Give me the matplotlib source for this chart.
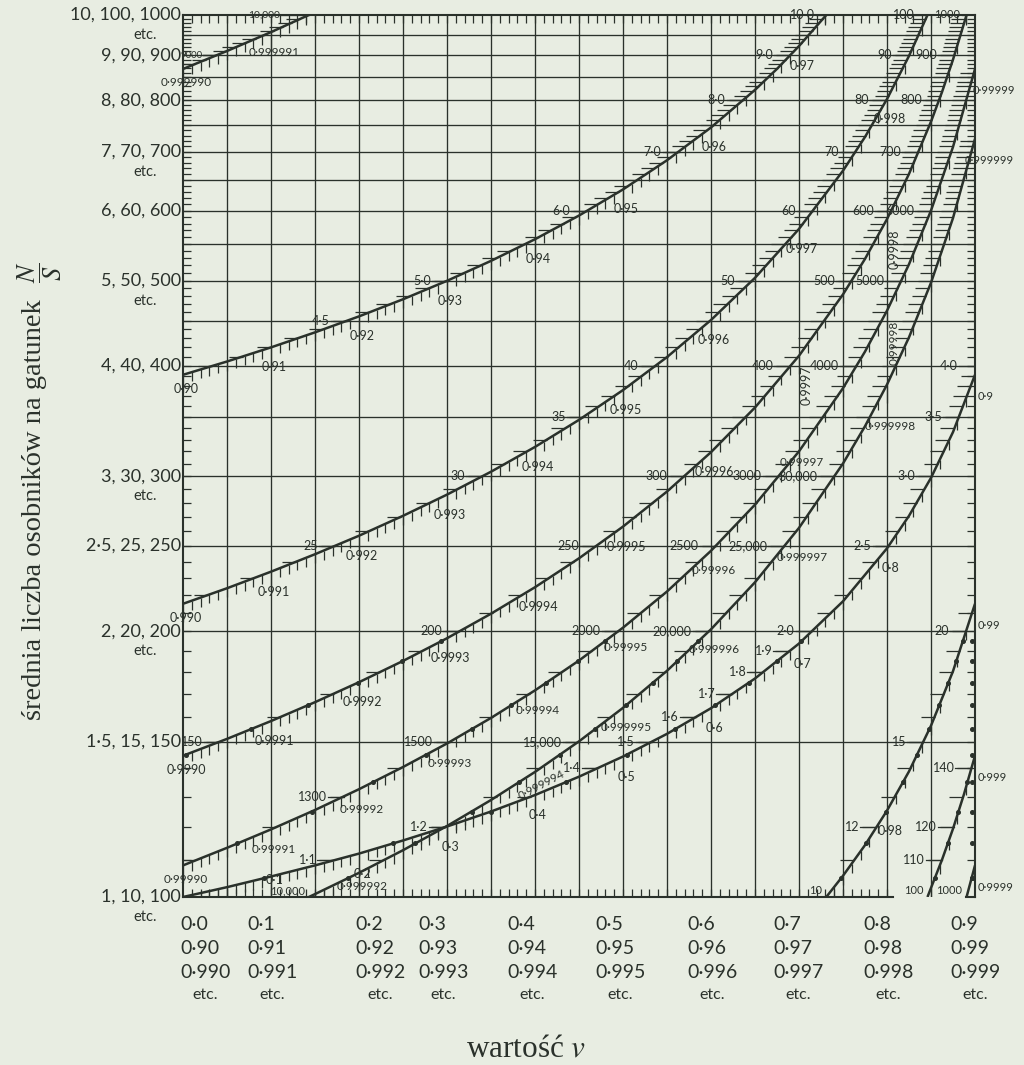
import numpy as np
import matplotlib.pyplot as plt
from matplotlib.collections import LineCollection
from matplotlib.ticker import NullLocator

plt.rcParams["font.family"] = ["Lato", "DejaVu Sans"]
plt.rcParams["mathtext.fontset"] = "stix"

INK = "#2a312b"
PAPER = "#e8ede2"

# N/S along each v scale; u is the position on the common v axis (0.0 .. 0.9)
ROW1_U = [0.00, 0.05, 0.10, 0.15, 0.20, 0.25, 0.30, 0.35, 0.40, 0.45, 0.50, 0.55, 0.60, 0.65,
          0.70, 0.75, 0.80, 0.825, 0.85, 0.875, 0.90]
ROW1_NS = [1.000, 1.026, 1.055, 1.086, 1.120, 1.159, 1.202, 1.250, 1.305, 1.369, 1.443, 1.531,
           1.637, 1.769, 1.938, 2.164, 2.485, 2.705, 2.987, 3.366, 3.909]

ROW2_U = [0.00, 0.05, 0.10, 0.15, 0.20, 0.25, 0.30, 0.35, 0.40, 0.45, 0.50, 0.55, 0.60, 0.65,
          0.675, 0.70, 0.731, 0.75, 0.775, 0.80, 0.825, 0.85, 0.875, 0.90]
ROW2_NS = [3.909, 4.047, 4.199, 4.367, 4.553, 4.761, 4.996, 5.263, 5.569, 5.924, 6.342, 6.844,
           7.456, 8.224, 8.688, 9.221, 10.0, 10.57, 11.45, 12.53, 13.88, 15.64, 18.03, 21.50]

ROW3_U = [0.00, 0.05, 0.10, 0.15, 0.20, 0.25, 0.30, 0.35, 0.40, 0.45, 0.50, 0.55, 0.60, 0.65,
          0.70, 0.75, 0.775, 0.80, 0.825, 0.846, 0.85, 0.8625, 0.875, 0.8875, 0.90]
ROW3_NS = [21.50, 22.39, 23.38, 24.47, 25.68, 27.05, 28.59, 30.35, 32.38, 34.75, 37.56, 40.94,
           45.10, 50.35, 57.21, 66.60, 72.73, 80.30, 89.86, 100.0, 102.4, 110.2, 119.5, 130.8,
           144.6]

ROW4_U = [0.00, 0.05, 0.10, 0.15, 0.20, 0.25, 0.30, 0.35, 0.40, 0.45, 0.50, 0.55, 0.60, 0.65,
          0.70, 0.75, 0.775, 0.80, 0.825, 0.85, 0.8625, 0.875, 0.8904, 0.90]
ROW4_NS = [144.6, 151.1, 158.3, 166.3, 175.2, 185.2, 196.5, 209.5, 224.5, 242.1, 263.0, 288.2,
           319.4, 358.9, 410.8, 482.2, 529.0, 586.9, 660.4, 757.0, 817.8, 890.1, 1000.0, 1086.0]

ROW5_U = [0.00, 0.05, 0.10, 0.15, 0.20, 0.25, 0.30, 0.35, 0.40, 0.45, 0.50, 0.55, 0.60, 0.65,
          0.70, 0.75, 0.775, 0.80, 0.825, 0.85, 0.875, 0.90]
ROW5_NS = [1086, 1137, 1193, 1255, 1325, 1404, 1493, 1596, 1715, 1854, 2020, 2220, 2469, 2785,
           3201, 3775, 4153, 4621, 5217, 6002, 7086, 8686]

ROW6_U = [0.00, 0.05, 0.10, 0.143, 0.15, 0.20, 0.25, 0.30, 0.35, 0.40, 0.45, 0.50, 0.55, 0.60,
          0.65, 0.70, 0.75, 0.775, 0.80, 0.825, 0.85, 0.875, 0.90]
ROW6_NS = [8686, 9103, 9563, 10000, 10076, 10651, 11299, 12036, 12881, 13861, 15013, 16385,
           18050, 20114, 22743, 26212, 31010, 34176, 38103, 43108, 49714, 58857, 72382]

# marked N/S values on each scale
ROW1_NS_LABELS = ["1·1", "1·2", "1·4", "1·5", "1·6", "1·7", "1·8", "1·9", "2·0", "2·5", "3·0",
                  "3·5", "4·0"]
ROW2_NS_LABELS = ["4·5", "5·0", "6·0", "7·0", "8·0", "9·0", "10·0", "12", "15", "20"]
ROW3_NS_LABELS = ["25", "30", "35", "40", "50", "60", "70", "80", "90", "100", "110", "120", "140"]
ROW4_NS_LABELS = ["150", "200", "250", "300", "400", "500", "600", "700", "800", "900", "1000"]
ROW5_NS_LABELS = ["1300", "1500", "2000", "2500", "3000", "4000", "5000", "6000"]
ROW6_NS_LABELS = ["9000", "10,000", "15,000", "20,000", "25,000", "30,000"]
WRAP_LABELS = ["10", "100", "1000", "10,000"]

# marked v values on each scale
ROW1_V_LABELS = ["0·1", "0·2", "0·3", "0·4", "0·5", "0·6", "0·7", "0·8", "0·9"]
ROW2_V_LABELS = ["0·90", "0·91", "0·92", "0·93", "0·94", "0·95", "0·96", "0·97", "0·98", "0·99"]
ROW3_V_LABELS = ["0·990", "0·991", "0·992", "0·993", "0·994", "0·995", "0·996", "0·997",
                 "0·998", "0·999"]
ROW4_V_LABELS = ["0·9990", "0·9991", "0·9992", "0·9993", "0·9994", "0·9995", "0·9996", "0·9997",
                 "0·9998", "0·9999"]
ROW5_V_LABELS = ["0·99990", "0·99991", "0·99992", "0·99993", "0·99994", "0·99995", "0·99996",
                 "0·99997", "0·99998", "0·99999"]
ROW6_V_LABELS = ["0·999990", "0·999991", "0·999992", "0·999994", "0·999995", "0·999996",
                 "0·999997", "0·999998", "0·999999"]

Y_TICK_VALUES = [1, 1.5, 2, 2.5, 3, 4, 5, 6, 7, 8, 9, 10]
Y_TICK_LABELS = ["1, 10, 100", "1·5, 15, 150", "2, 20, 200", "2·5, 25, 250", "3, 30, 300",
                 "4, 40, 400", "5, 50, 500", "6, 60, 600", "7, 70, 700", "8, 80, 800",
                 "9, 90, 900", "10, 100, 1000"]
Y_ETC_VALUES = [1, 2, 3, 5, 7, 10]

X_TICK_U = [0.0, 0.1, 0.2, 0.3, 0.4, 0.5, 0.6, 0.7, 0.8, 0.9]
X_ROW1 = ["0·0", "0·1", "0·2", "0·3", "0·4", "0·5", "0·6", "0·7", "0·8", "0·9"]
X_ROW2 = ["0·90", "0·91", "0·92", "0·93", "0·94", "0·95", "0·96", "0·97", "0·98", "0·99"]
X_ROW3 = ["0·990", "0·991", "0·992", "0·993", "0·994", "0·995", "0·996", "0·997", "0·998",
          "0·999"]

ROWS = [
    (ROW1_U, ROW1_NS, ROW1_NS_LABELS, ROW1_V_LABELS),
    (ROW2_U, ROW2_NS, ROW2_NS_LABELS, ROW2_V_LABELS),
    (ROW3_U, ROW3_NS, ROW3_NS_LABELS, ROW3_V_LABELS),
    (ROW4_U, ROW4_NS, ROW4_NS_LABELS, ROW4_V_LABELS),
    (ROW5_U, ROW5_NS, ROW5_NS_LABELS, ROW5_V_LABELS),
    (ROW6_U, ROW6_NS, ROW6_NS_LABELS, ROW6_V_LABELS),
]

# layout (pixels)
W, H = 1024, 1065
X0, X1, Y_TOP, Y_BOT = 183, 975, 15, 897
U_PX = 0.9 / (X1 - X0)
D_PX = 1.0 / (Y_BOT - Y_TOP)
PT = 0.72
X_LABEL_SHIFT = [-3, -24, -4, -29, -28, -28, -24, -26, -24, -25]
V_LABEL_DY = {"0·999997": 30, "0·999998": 42, "0·99997": 11, "0·1": 4}
END_LABEL_DX = {"0·999999": -10, "0·99999": -2}
NS_LABEL_GAP = {"9000": 13, "10,000": 28, "10·0": 10, "100": 12, "1000": 5}
NS_LABEL_SIZE = {"9000": 7, "10,000": 7.5, "1000": 8}
ROTATED = {"0·9997", "0·9998", "0·99998"}
SLANTED = {"0·999994"}


def parse(txt):
    return float(txt.replace("·", ".").replace(",", ""))


def split_decades(us, ns):
    """Cut one scale into pieces lying inside a single decade of N/S."""
    us = np.asarray(us, float)
    ns = np.asarray(ns, float)
    dec = np.floor(np.log10(ns) + 1e-9).astype(int)
    out = []
    for d in np.unique(dec):
        idx = np.flatnonzero(dec == d)
        su = list(us[idx])
        sm = list(ns[idx] / 10.0 ** d)
        nxt = idx[-1] + 1
        if nxt < len(ns) and np.isclose(ns[nxt], 10.0 ** (d + 1)):
            su.append(us[nxt])
            sm.append(10.0)
        out.append((d, np.array(su), np.array(sm)))
    return out


fig = plt.figure(figsize=(W / 100, H / 100), dpi=100, facecolor=PAPER)
ax = fig.add_axes([X0 / W, 1 - Y_BOT / H, (X1 - X0) / W, (Y_BOT - Y_TOP) / H])
ax.set_facecolor(PAPER)
ax.set_yscale("log")
ax.set_xlim(0, 0.9)
ax.set_ylim(1, 10)
ax.set_xticks([])
ax.set_yticks([])
ax.yaxis.set_minor_locator(NullLocator())
for s in ax.spines.values():
    s.set_visible(False)

# grid
for u in np.arange(1, 18) * 0.05:
    ax.plot([u, u], [1, 10], color=INK, lw=0.95, zorder=1)
for m in np.arange(1.5, 10, 0.5):
    ax.plot([0, 0.9], [m, m], color=INK, lw=0.95, zorder=1)

# frame
frame_kw = dict(color=INK, lw=1.5, clip_on=False, zorder=4, solid_capstyle="projecting")
ax.plot([0, 0], [1, 10], **frame_kw)
ax.plot([0.9, 0.9], [1, 10], **frame_kw)
ax.plot([0, 0.9], [10, 10], **frame_kw)
ax.plot([0, 0.807], [1, 1], **frame_kw)
ax.plot([0.89, 0.9], [1, 1], **frame_kw)

ticks = []
for j in range(1, 90):
    u = j / 100
    ticks.append([(u, 10), (u, 10 ** (1 - 8 * D_PX))])
    if u <= 0.80:
        ticks.append([(u, 1), (u, 10 ** (8 * D_PX))])
for j in range(11, 100):
    m = j / 10
    ticks.append([(0, m), (8 * U_PX, m)])
    ticks.append([(0.9, m), (0.9 - 8 * U_PX, m)])
edge_dots = [j / 10 + 0.05 for j in range(10, 20)]
ax.plot([0.9 - 3 * U_PX] * len(edge_dots), edge_dots, "o", color=INK, ms=2.6, zorder=3)

lab_kw = dict(textcoords="offset points", color=INK, zorder=6)
dots_u, dots_m = [], []

for k, (us, ns, ns_labels, v_labels) in enumerate(ROWS):
    segs = split_decades(us, ns)
    for d, su, sm in segs:
        lm = np.log10(sm)
        ax.plot(su, sm, color=INK, lw=1.8, zorder=3, solid_capstyle="butt")
        for j in range(91):
            u = j / 100
            if su[0] - 1e-6 <= u <= su[-1] + 1e-6:
                m = 10 ** np.interp(u, su, lm)
                ln = 18 if j % 10 == 0 else 9
                ticks.append([(u, m), (u, m * 10 ** (-ln * D_PX))])
        for j in range(10, 101):
            m = j / 10
            if sm[0] * 1.001 < m < sm[-1] * 0.999:
                u = np.interp(np.log10(m), lm, su)
                ticks.append([(u - 14 * U_PX, m), (u, m)])
        for m in edge_dots:
            if sm[0] < m < sm[-1]:
                dots_u.append(np.interp(np.log10(m), lm, su))
                dots_m.append(m)

    # N/S marks with leaders
    for txt in ns_labels:
        val = parse(txt)
        for d, su, sm in segs:
            m = val / 10.0 ** d
            if sm.min() * 0.98 <= m <= sm.max() * 1.03:
                break
        else:
            continue
        u = np.interp(np.log10(m), np.log10(sm), su)
        gap = NS_LABEL_GAP.get(txt, 16)
        ax.plot([u - gap * U_PX, u], [m, m], color=INK, lw=0.9, zorder=3)
        ax.annotate(txt, xy=(u, m), xytext=(-(gap + 1) * PT, 0), ha="right", va="center",
                    fontsize=NS_LABEL_SIZE.get(txt, 9), **lab_kw)

    # value where the scale wraps back to the bottom edge
    for txt in WRAP_LABELS:
        val = parse(txt)
        if val in ns:
            u = us[list(ns).index(val)]
            ax.annotate(txt, xy=(u, 1), xytext=(-4 * PT, 1 * PT), ha="right", va="bottom",
                        fontsize=8, **lab_kw)

    # v marks
    base, scale = 1 - 10.0 ** (-k), 10.0 ** k
    for txt in v_labels:
        u = round((parse(txt) - base) * scale, 4)
        for d, su, sm in segs:
            if su[0] - 1e-6 <= u <= su[-1] + 1e-6:
                break
        m = 10 ** np.interp(u, su, np.log10(sm))
        fs = 8.5 if len(txt) >= 7 else 9
        if u >= 0.9 - 1e-6:
            dx = END_LABEL_DX.get(txt, 3)
            ax.annotate(txt, xy=(u, m), xytext=(dx * PT, -22 * PT), ha="left", va="center",
                        fontsize=8, annotation_clip=False, **lab_kw)
        elif txt in ROTATED:
            ax.annotate(txt, xy=(u, m), xytext=(2 * PT, -10 * PT), ha="left", va="top",
                        rotation=90, fontsize=fs, **lab_kw)
        elif txt in SLANTED:
            ax.annotate(txt, xy=(u, m), xytext=(6 * PT, -13 * PT), ha="center", va="center",
                        rotation=28, fontsize=fs, **lab_kw)
        else:
            dy = V_LABEL_DY.get(txt, 14 if u == 0 else 20)
            dy = min(dy, np.log10(m) / D_PX - 10)
            ax.annotate(txt, xy=(u, m), xytext=(3 * PT, -dy * PT), ha="center", va="center",
                        fontsize=fs, annotation_clip=False, **lab_kw)

ax.add_collection(LineCollection(ticks, colors=INK, linewidths=0.9, zorder=2))
ax.plot(dots_u, dots_m, "o", color=INK, ms=2.6, zorder=4)

# left axis labels
ytr = ax.get_yaxis_transform()
for val, txt in zip(Y_TICK_VALUES, Y_TICK_LABELS):
    ax.annotate(txt, xy=(0, val), xycoords=ytr, xytext=(-2 * PT, 0), ha="right", va="center",
                fontsize=13, annotation_clip=False, **lab_kw)
for val in Y_ETC_VALUES:
    ax.annotate("etc.", xy=(0, val), xycoords=ytr, xytext=(-38 * PT, -20 * PT), ha="center",
                va="center", fontsize=10.5, annotation_clip=False, **lab_kw)

# bottom axis labels: three v ranges share one scale
xtr = ax.get_xaxis_transform()
for u, shift, t1, t2, t3 in zip(X_TICK_U, X_LABEL_SHIFT, X_ROW1, X_ROW2, X_ROW3):
    for dy, t in zip([-28, -51, -75], [t1, t2, t3]):
        ax.annotate(t, xy=(u, 0), xycoords=xtr, xytext=(shift * PT, dy * PT), ha="left",
                    va="center", fontsize=14, annotation_clip=False, **lab_kw)
    ax.annotate("etc.", xy=(u, 0), xycoords=xtr, xytext=((shift + 25) * PT, -98 * PT),
                ha="center", va="center", fontsize=11.5, annotation_clip=False, **lab_kw)

fig.text(526 / W, 1 - 1049 / H, "wartość $v$", family="Liberation Serif", fontsize=22.5,
         ha="center", va="center", color=INK)
fig.text(35 / W, 1 - 510 / H, "średnia liczba osobników na gatunek", family="Liberation Serif",
         fontsize=20.5, rotation=90, ha="center", va="center", color=INK)
fig.text(40 / W, 1 - 272 / H, r"$\dfrac{N}{S}$", fontsize=19, rotation=90, ha="center",
         va="center", color=INK)

fig.savefig("out.png", dpi=100, facecolor=PAPER)
